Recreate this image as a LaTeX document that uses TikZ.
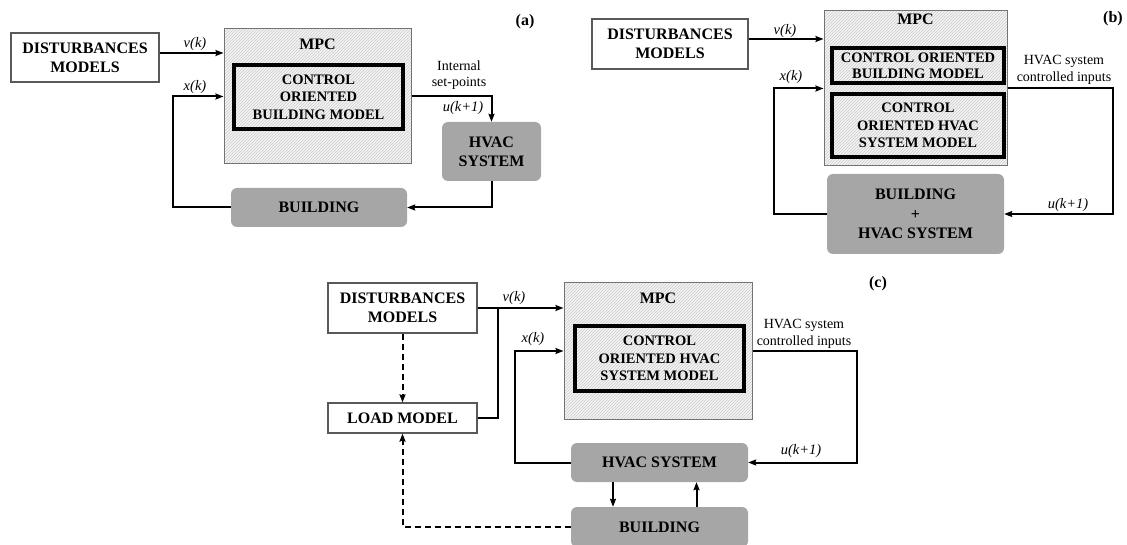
\documentclass[tikz,border=0pt]{standalone}
\usepackage{fontspec}
\setmainfont{Liberation Serif}
\usetikzlibrary{arrows.meta,patterns}
\definecolor{boxgray}{RGB}{166,166,166}
\tikzset{
  x=1pt, y=-1pt,
  bigf/.style={font=\bfseries\fontsize{16}{19}\selectfont},
  modf/.style={font=\bfseries\fontsize{14.5}{17.5}\selectfont},
  wbox/.style={draw=black!65, line width=1.2pt, fill=white, align=center, inner sep=0pt, bigf},
  mpcbox/.style={draw=black!55, line width=1pt, inner sep=0pt,
    preaction={fill=gray!9}, pattern=north east lines, pattern color=gray!40},
  modelbox/.style={draw=black, line width=3.5pt, inner sep=0pt, align=center, modf,
    preaction={fill=gray!9}, pattern=north east lines, pattern color=gray!40},
  gbox/.style={fill=boxgray, rounded corners=6pt, inner sep=0pt, align=center, bigf},
  conn/.style={line width=2pt, -{Stealth[length=8pt,width=6pt,inset=1pt]}},
  plainline/.style={line width=2pt},
  dconn/.style={line width=2pt, dash pattern=on 6pt off 4pt, -{Stealth[length=8pt,width=6pt,inset=1pt]}},
  lbl/.style={font=\itshape\fontsize{14.5}{16}\selectfont, inner sep=0pt},
  note/.style={font=\fontsize{14}{16.5}\selectfont, align=center, inner sep=0pt},
  tag/.style={font=\bfseries\fontsize{16}{19}\selectfont, inner sep=0pt},
}
\begin{document}
\begin{tikzpicture}
\useasboundingbox (0,0) rectangle (1127,545);
\clip (0,0) rectangle (1127,545);

% ---------------- panel (a) ----------------
\node[wbox, minimum width=148pt, minimum height=49pt] (dA) at (85,57.5) {DISTURBANCES\\MODELS};
\node[mpcbox, minimum width=187pt, minimum height=135pt] (mpcA) at (317.5,96.5) {};
\node[bigf, inner sep=0pt] (mpcAl) at (317.5,44) {MPC};
\node[modelbox, minimum width=169pt, minimum height=64pt] (inA) at (318.5,97) {CONTROL\\ORIENTED\\BUILDING MODEL};
\node[gbox, minimum width=99pt, minimum height=59pt] (hvacA) at (491.5,151.5) {HVAC\\SYSTEM};
\node[gbox, minimum width=176pt, minimum height=39pt] (bldA) at (319,207.5) {BUILDING};
\coordinate (vA) at ([yshift=4.5pt]dA.east);
\draw[conn] (vA) -- (vA -| mpcA.west);
\draw[conn] (bldA.west) -- ++(-58,0) |- (mpcA.west);
\draw[conn] (mpcA.east) -| (hvacA.north);
\draw[conn] (hvacA.south) |- (bldA.east);
\node[lbl] (vAl) at (195,44) {v(k)};
\node[lbl] (xAl) at (195,87) {x(k)};
\node[note] (spA) at (459,75) {Internal\\set-points};
\node[lbl] (uAl) at (463,108) {u(k+1)};
\node[tag] (tagA) at (525,22) {(a)};

% ---------------- panel (b) ----------------
\node[wbox, minimum width=156pt, minimum height=50pt] (dB) at (670,44) {DISTURBANCES\\MODELS};
\node[mpcbox, minimum width=183pt, minimum height=155pt] (mpcB) at (915.5,88.5) {};
\node[bigf, inner sep=0pt] (mpcBl) at (915.5,19) {MPC};
\node[modelbox, minimum width=172pt, minimum height=35pt, font=\bfseries\fontsize{14.5}{16}\selectfont] (inB1) at (918,65.5) {CONTROL ORIENTED\\BUILDING MODEL};
\node[modelbox, minimum width=172pt, minimum height=63pt] (inB2) at (918,125.5) {CONTROL\\ORIENTED HVAC\\SYSTEM MODEL};
\node[gbox, minimum width=177pt, minimum height=80pt, font=\bfseries\fontsize{16}{19.5}\selectfont] (bldB) at (915.5,214) {BUILDING\\+\\HVAC SYSTEM};
\coordinate (vB) at ([yshift=5pt]dB.east);
\draw[conn] (vB) -- (vB -| mpcB.west);
\draw[conn] (bldB.west) -- ++(-53,0) |- (mpcB.west);
\draw[conn] (mpcB.east) -- ++(105,0) |- (bldB.east);
\node[lbl] (vBl) at (785,31) {v(k)};
\node[lbl] (xBl) at (791,77) {x(k)};
\node[note] (ciB) at (1064,70) {HVAC system\\controlled inputs};
\node[lbl] (uBl) at (1068,205) {u(k+1)};
\node[tag] (tagB) at (1113,19) {(b)};

% ---------------- panel (c) ----------------
\node[wbox, minimum width=149pt, minimum height=50pt] (dC) at (402.5,308) {DISTURBANCES\\MODELS};
\node[wbox, minimum width=149pt, minimum height=30pt] (loadC) at (402.5,418) {LOAD MODEL};
\node[mpcbox, minimum width=188pt, minimum height=136pt] (mpcC) at (658,351) {};
\node[bigf, inner sep=0pt] (mpcCl) at (658,298) {MPC};
\node[modelbox, minimum width=169pt, minimum height=65pt] (inC) at (659.5,358.5) {CONTROL\\ORIENTED HVAC\\SYSTEM MODEL};
\node[gbox, minimum width=177pt, minimum height=39pt] (hvacC) at (659.5,462.5) {HVAC SYSTEM};
\node[gbox, minimum width=177pt, minimum height=40pt] (bldC) at (659.5,527) {BUILDING};
\draw[conn] (dC.east) -- (dC.east -| mpcC.west);
\draw[plainline] (loadC.east) -| ([xshift=20pt]dC.east);
\draw[dconn] (dC.south) -- (loadC.north);
\draw[dconn] (bldC.west) -| (loadC.south);
\draw[conn] (hvacC.west) -- ++(-56,0) |- (mpcC.west);
\draw[conn] (mpcC.east) -- ++(104,0) |- (hvacC.east);
\draw[conn] ([xshift=-46.5pt]hvacC.south) -- ([xshift=-46.5pt]bldC.north);
\draw[conn] ([xshift=37pt]bldC.north) -- ([xshift=37pt]hvacC.south);
\node[lbl] (vCl) at (514,298) {v(k)};
\node[lbl] (xCl) at (533,339) {x(k)};
\node[note] (ciC) at (804,334) {HVAC system\\controlled inputs};
\node[lbl] (uCl) at (801,451) {u(k+1)};
\node[tag] (tagC) at (878,284) {(c)};
\end{tikzpicture}
\end{document}
